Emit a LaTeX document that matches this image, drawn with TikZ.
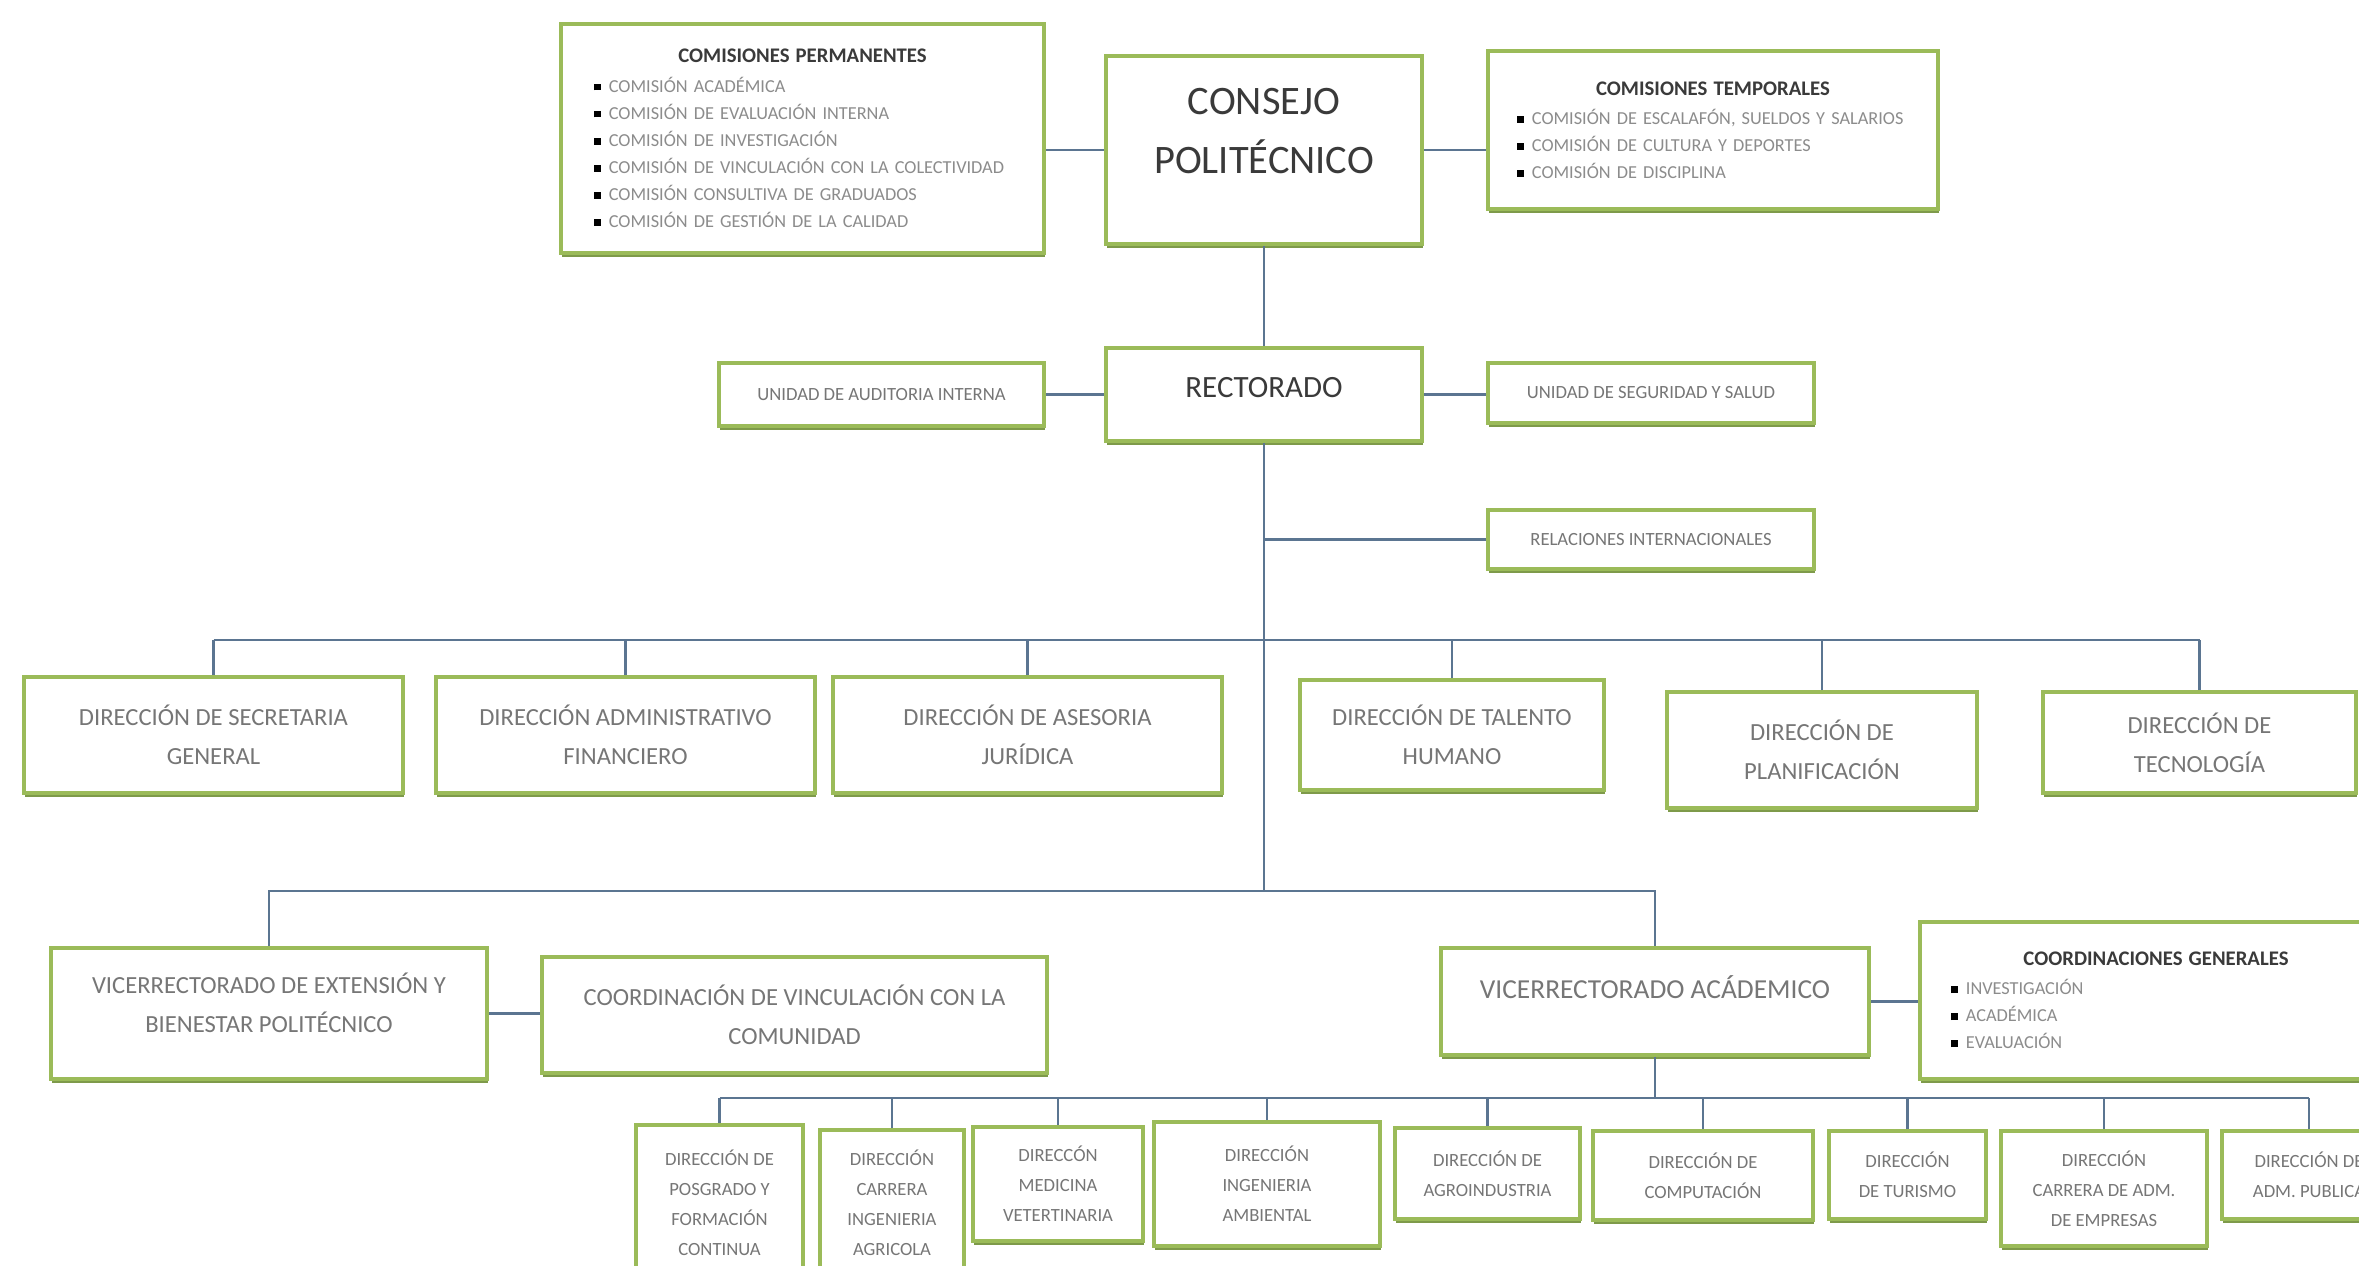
\documentclass[tikz,border=0pt]{standalone}
\usepackage{fontspec}
\setmainfont{Carlito}
\usepackage{tikz}
\usetikzlibrary{shadows}
\definecolor{verde}{HTML}{9BBB59}
\definecolor{verdeosc}{HTML}{7E9A4A}
\definecolor{azulgris}{HTML}{5B7591}
\definecolor{gristxt}{HTML}{767676}
\definecolor{grisitem}{HTML}{8C8C8C}
\definecolor{negro}{HTML}{3A3A3A}
\newcommand{\itm}[1]{\makebox[0.15cm][l]{\color{black}\rule[0.5pt]{1.9pt}{1.9pt}}#1\par}
\newcommand{\titulo}[1]{{\centering\fontsize{5.9}{8}\selectfont\bfseries\color{negro}#1\par}\vspace{0.6pt}}

\begin{document}
\begin{tikzpicture}[x=0.01cm,y=-0.01cm,
    caja/.style={draw=verde,line width=1.1pt,fill=white,inner sep=0pt,align=center,text=gristxt,
        drop shadow={shadow xshift=0.2pt,shadow yshift=-1.1pt,fill=verdeosc,opacity=1}},
    conectar/.style={draw=azulgris,line width=0.6pt},
    grande/.style={font=\fontsize{11.5}{16.8}\selectfont,text=negro,align=center},
    medio/.style={font=\fontsize{8.8}{11}\selectfont,text=negro,text depth=0.14cm},
    vice/.style={font=\fontsize{7.8}{11}\selectfont,text=gristxt,align=center},
    normal/.style={font=\fontsize{7}{11.2}\selectfont},
    chico/.style={font=\fontsize{5.3}{8.5}\selectfont},
    lista/.style={caja,font=\fontsize{5.2}{7.7}\selectfont,text=grisitem}]
    \fill[white] (0,0) rectangle (2359,1265);
    \useasboundingbox (0,0) rectangle (2359,1265);
    \clip (0,0) rectangle (2359,1265);

    \node[lista,minimum width=4.83cm,minimum height=2.29cm,text width=4.17cm] (perm) at (802.5,138.5)
        {\titulo{COMISIONES PERMANENTES}\raggedright
        \itm{COMISIÓN ACADÉMICA}\itm{COMISIÓN DE EVALUACIÓN INTERNA}\itm{COMISIÓN DE INVESTIGACIÓN}
        \itm{COMISIÓN DE VINCULACIÓN CON LA COLECTIVIDAD}\itm{COMISIÓN CONSULTIVA DE GRADUADOS}
        \itm{COMISIÓN DE GESTIÓN DE LA CALIDAD}};
    \node[caja,minimum width=3.16cm,minimum height=1.88cm] (consejo) at (1264,150) {};
    \node[grande] (consejotxt) at (1264,131) {CONSEJO\\POLITÉCNICO};
    \node[lista,minimum width=4.5cm,minimum height=1.58cm,text width=3.92cm] (temp) at (1713,130)
        {\titulo{COMISIONES TEMPORALES}\raggedright
        \itm{COMISIÓN DE ESCALAFÓN, SUELDOS Y SALARIOS}\itm{COMISIÓN DE CULTURA Y DEPORTES}
        \itm{COMISIÓN DE DISCIPLINA}};

    \node[caja,medio,minimum width=3.16cm,minimum height=0.93cm] (rector) at (1264,394.5) {RECTORADO};
    \node[caja,chico,minimum width=3.25cm,minimum height=0.63cm] (audit) at (881.5,394.5) {UNIDAD DE AUDITORIA INTERNA};
    \node[caja,chico,minimum width=3.26cm,minimum height=0.60cm] (segur) at (1651,393) {UNIDAD DE SEGURIDAD Y SALUD};
    \node[caja,chico,minimum width=3.26cm,minimum height=0.59cm] (relac) at (1651,539.5) {RELACIONES INTERNACIONALES};

    \node[caja,normal,minimum width=3.79cm,minimum height=1.16cm] (secgen) at (213.5,735) {DIRECCIÓN DE SECRETARIA\\GENERAL};
    \node[caja,normal,minimum width=3.79cm,minimum height=1.16cm] (admfin) at (625.5,735) {DIRECCIÓN ADMINISTRATIVO\\FINANCIERO};
    \node[caja,normal,minimum width=3.89cm,minimum height=1.16cm] (asesor) at (1027.5,735) {DIRECCIÓN DE ASESORIA\\JURÍDICA};
    \node[caja,normal,minimum width=3.04cm,minimum height=1.10cm] (talento) at (1452,735) {DIRECCIÓN DE TALENTO\\HUMANO};
    \node[caja,normal,minimum width=3.10cm,minimum height=1.16cm] (planif) at (1822,750) {DIRECCIÓN DE\\PLANIFICACIÓN};
    \node[caja,normal,minimum width=3.13cm,minimum height=1.01cm] (tecnol) at (2199.5,742.5) {DIRECCIÓN DE\\TECNOLOGÍA};

    \node[caja,minimum width=4.36cm,minimum height=1.31cm] (vext) at (269,1013.5) {};
    \node[vice,normal] (vexttxt) at (269,1003) {VICERRECTORADO DE EXTENSIÓN Y\\BIENESTAR POLITÉCNICO};
    \node[caja,normal,minimum width=5.05cm,minimum height=1.16cm] (coordvinc) at (794.5,1015) {COORDINACIÓN DE VINCULACIÓN CON LA\\COMUNIDAD};
    \node[caja,minimum width=4.28cm,minimum height=1.07cm] (vacad) at (1655,1001.5) {};
    \node[vice] (vacadtxt) at (1655,987) {VICERRECTORADO ACÁDEMICO};
    \node[lista,minimum width=4.72cm,minimum height=1.57cm,text width=4.10cm] (coordgen) at (2156,1000.5)
        {\titulo{COORDINACIONES GENERALES}\raggedright
        \itm{INVESTIGACIÓN}\itm{ACADÉMICA}\itm{EVALUACIÓN}};

    \node[caja,chico,minimum width=1.67cm,minimum height=1.55cm] (posg) at (719.5,1202.5) {DIRECCIÓN DE\\POSGRADO Y\\FORMACIÓN\\CONTINUA};
    \node[caja,chico,minimum width=1.44cm,minimum height=1.46cm] (agric) at (892,1203) {DIRECCIÓN\\CARRERA\\INGENIERIA\\AGRICOLA};
    \node[caja,chico,minimum width=1.70cm,minimum height=1.14cm] (medic) at (1058,1184) {DIRECCÓN\\MEDICINA\\VETERTINARIA};
    \node[caja,chico,minimum width=2.26cm,minimum height=1.24cm] (ambient) at (1267,1184) {DIRECCIÓN\\INGENIERIA\\AMBIENTAL};
    \node[caja,chico,minimum width=1.85cm,minimum height=0.91cm] (agroind) at (1487.5,1173.5) {DIRECCIÓN DE\\AGROINDUSTRIA};
    \node[caja,chico,minimum width=2.20cm,minimum height=0.89cm] (comput) at (1703,1175.5) {DIRECCIÓN DE\\COMPUTACIÓN};
    \node[caja,chico,minimum width=1.57cm,minimum height=0.88cm] (turismo) at (1907.5,1175) {DIRECCIÓN\\DE TURISMO};
    \node[caja,chico,minimum width=2.06cm,minimum height=1.15cm] (carradm) at (2104,1188.5) {DIRECCIÓN\\CARRERA DE ADM.\\DE EMPRESAS};
    \node[caja,chico,minimum width=1.74cm,minimum height=0.88cm] (admpub) at (2309,1175) {DIRECCIÓN DE\\ADM. PUBLICA};

    \coordinate (bus1) at (1264,640);
    \coordinate (bus2) at (1264,891);
    \coordinate (bus3) at (1667,1098);

    \draw[conectar] (consejo.west) -- (consejo.west -| perm.east);
    \draw[conectar] (consejo.east) -- (consejo.east -| temp.west);
    \draw[conectar] (consejo.south) -- (rector.north);
    \draw[conectar] (rector.west) -- (rector.west -| audit.east);
    \draw[conectar] (rector.east) -- (rector.east -| segur.west);
    \draw[conectar] (rector.south) -- (bus2);
    \draw[conectar] (relac.west) -- (relac.west -| rector.south);
    \draw[conectar] (secgen.north |- bus1) -- (tecnol.north |- bus1);
    \foreach \d in {secgen,admfin,asesor,talento,planif,tecnol}
        \draw[conectar] (\d.north) -- (\d.north |- bus1);
    \draw[conectar] (vext.north) |- (bus2) -| (vacad.north);
    \draw[conectar] (vext.east) -- (vext.east -| coordvinc.west);
    \draw[conectar] (vacad.east) -- (vacad.east -| coordgen.west);
    \draw[conectar] (vacad.south) -- (vacad.south |- bus3);
    \draw[conectar] (posg.north |- bus3) -- (admpub.north |- bus3);
    \foreach \d in {posg,agric,medic,ambient,agroind,comput,turismo,carradm,admpub}
        \draw[conectar] (\d.north) -- (\d.north |- bus3);
\end{tikzpicture}
\end{document}
